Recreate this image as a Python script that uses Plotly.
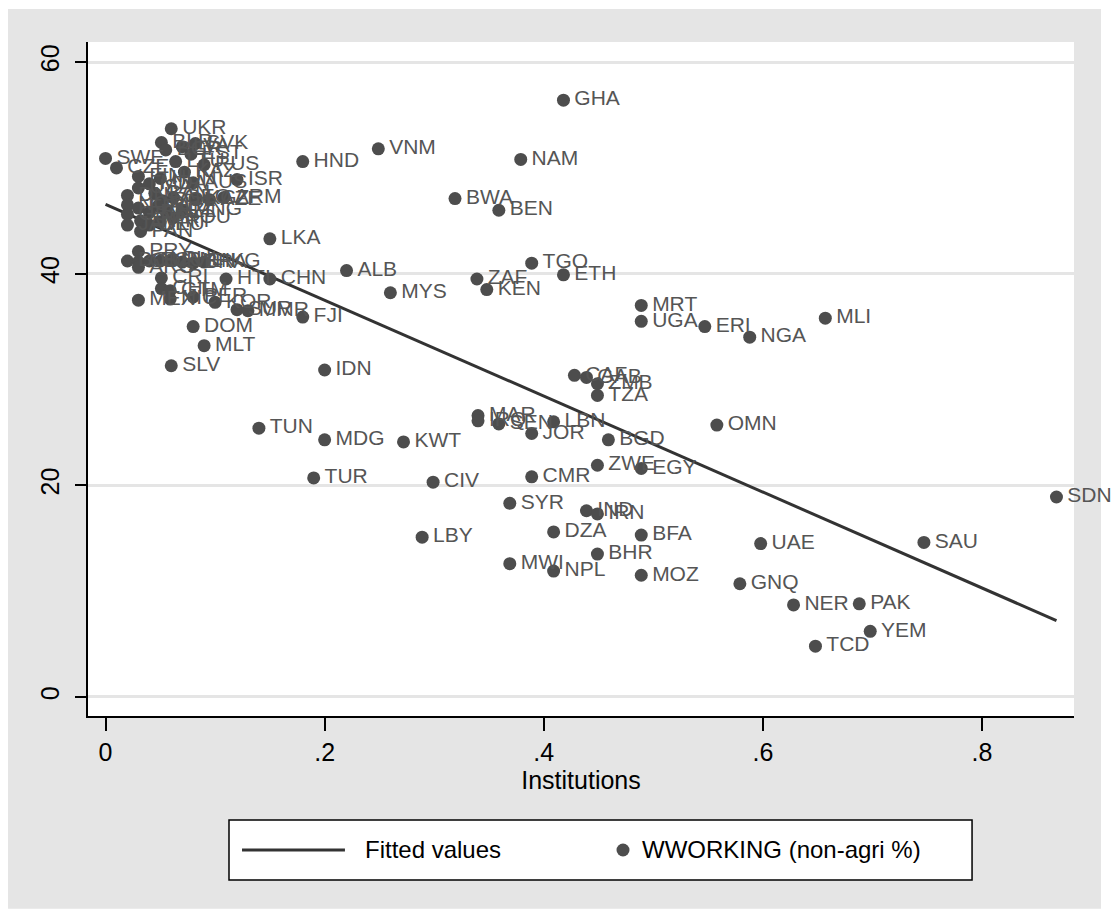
import numpy as np
import plotly.graph_objects as go

# Country codes, institutions index and share of women working (non-agri %)
codes = [
    "UKR", "BLR", "BGR", "LVA", "SVK", "EST", "LTU", "SWE", "CZE", "RUS",
    "FIN", "KAZ", "HUN", "MDA", "AUS", "ISR", "USA", "CAN", "DNK", "GEO",
    "POL", "KGZ", "AZE", "ARM", "NOR", "FRA", "NLD", "NZL", "BEL", "GBR",
    "ROU", "SVN", "PRT", "DEU", "JAM", "PAN", "MNG",
    "PRY", "BOL", "COL", "ECU", "URY", "PHL", "VEN", "BRA", "HKG", "ARG",
    "CRI", "HTI", "CHL", "GTM", "MEX", "NIC", "PER", "KOR", "SUR", "MMR",
    "FJI", "DOM", "MLT", "SLV", "CHN", "LKA", "ALB", "MYS", "HND", "VNM",
    "IDN", "TUN", "MDG", "KWT", "TUR", "CIV", "LBY",
    "GHA", "NAM", "BWA", "BEN", "TGO", "ETH", "ZAF", "KEN", "MRT", "UGA",
    "ERI", "NGA", "MLI", "CAF", "GAB", "ZMB", "TZA", "MAR", "IRQ", "SEN",
    "LBN", "JOR", "BGD", "OMN", "CMR", "ZWE", "EGY", "SYR", "IND", "IRN",
    "DZA", "BFA", "BHR", "MWI", "NPL", "MOZ", "UAE", "SAU", "GNQ", "NER",
    "PAK", "YEM", "TCD", "SDN",
]
institutions = [
    0.060, 0.051, 0.055, 0.070, 0.082, 0.078, 0.064, 0.000, 0.010, 0.090,
    0.030, 0.072, 0.050, 0.040, 0.080, 0.120, 0.030, 0.045, 0.020, 0.062,
    0.052, 0.082, 0.095, 0.108, 0.020, 0.030, 0.048, 0.055, 0.040, 0.020,
    0.062, 0.032, 0.050, 0.040, 0.020, 0.032, 0.070,
    0.030, 0.020, 0.030, 0.040, 0.050, 0.060, 0.070, 0.080, 0.090, 0.030,
    0.051, 0.110, 0.051, 0.059, 0.030, 0.059, 0.080, 0.100, 0.120, 0.130,
    0.180, 0.080, 0.090, 0.060, 0.150, 0.150, 0.220, 0.260, 0.180, 0.249,
    0.200, 0.140, 0.200, 0.272, 0.190, 0.299, 0.289,
    0.418, 0.379, 0.319, 0.359, 0.389, 0.418, 0.339, 0.348, 0.489, 0.489,
    0.547, 0.588, 0.657, 0.428, 0.439, 0.449, 0.449, 0.340, 0.340, 0.359,
    0.409, 0.389, 0.459, 0.558, 0.389, 0.449, 0.489, 0.369, 0.439, 0.449,
    0.409, 0.489, 0.449, 0.369, 0.409, 0.489, 0.598, 0.747, 0.579, 0.628,
    0.688, 0.698, 0.648, 0.868,
]
wworking = [
    53.7, 52.4, 51.7, 52.0, 52.3, 51.3, 50.6, 50.9, 50.0, 50.3,
    49.2, 49.6, 49.0, 48.5, 48.6, 48.9, 48.1, 47.6, 47.4, 47.2,
    46.9, 47.1, 47.0, 47.2, 46.5, 46.2, 46.4, 45.9, 45.8, 45.6,
    45.3, 45.0, 44.9, 44.6, 44.6, 44.0, 46.0,
    42.1, 41.2, 41.1, 41.2, 41.2, 41.3, 41.1, 41.0, 41.1, 40.6,
    39.6, 39.5, 38.6, 38.4, 37.5, 37.6, 37.8, 37.3, 36.6, 36.5,
    35.9, 35.0, 33.2, 31.3, 39.5, 43.3, 40.3, 38.2, 50.6, 51.8,
    30.9, 25.4, 24.3, 24.1, 20.7, 20.3, 15.1,
    56.4, 50.8, 47.1, 46.0, 41.0, 39.9, 39.5, 38.5, 37.0, 35.5,
    35.0, 34.0, 35.8, 30.4, 30.2, 29.6, 28.5, 26.6, 26.1, 25.8,
    26.0, 24.9, 24.3, 25.7, 20.8, 21.9, 21.6, 18.3, 17.6, 17.3,
    15.6, 15.3, 13.5, 12.6, 11.9, 11.5, 14.5, 14.6, 10.7, 8.7,
    8.8, 6.2, 4.8, 18.9,
]

x_ticks = [0, 0.2, 0.4, 0.6, 0.8]
x_tick_text = ["0", ".2", ".4", ".6", ".8"]
y_ticks = [0, 20, 40, 60]

legend_labels = ["Fitted values", "WWORKING (non-agri %)"]

# Linear fit of working share on institutions
x = np.array(institutions)
y = np.array(wworking)
slope, intercept = np.polyfit(x, y, 1)
fit_x = np.array([x.min(), x.max()])
fit_y = intercept + slope * fit_x

FONT = "Liberation Sans, Arial, sans-serif"
MARK = "#4d4d4d"
LINE = "#333333"
GREY = "#e5e5e5"

# a hair space keeps the marker labels slightly away from the dots
point_labels = ["\u200a" + c for c in codes]

fig = go.Figure()

fig.add_trace(go.Scatter(
    x=fit_x, y=fit_y, mode="lines", name=legend_labels[0],
    line=dict(color=LINE, width=3), showlegend=False, hoverinfo="skip",
))
fig.add_trace(go.Scatter(
    x=institutions, y=wworking, mode="markers+text", name=legend_labels[1],
    text=point_labels, textposition="middle right", cliponaxis=False,
    textfont=dict(family=FONT, size=21, color="#555555"),
    marker=dict(color=MARK, size=13, line=dict(width=0)),
    showlegend=False,
))

shapes = []
# Graph region (grey) and white plot region on top of it
shapes.append(dict(type="rect", xref="paper", yref="paper",
                   x0=-0.0811, x1=1.0274, y0=-0.286, y1=1.049,
                   fillcolor=GREY, line=dict(width=0), layer="below"))
shapes.append(dict(type="rect", xref="paper", yref="paper",
                   x0=0, x1=1, y0=0, y1=1,
                   fillcolor="white", line=dict(width=0), layer="below"))

# Legend box with its two keys
leg_y = -0.1988
shapes.append(dict(type="rect", xref="paper", yref="paper",
                   x0=0.1430, x1=0.8966, y0=-0.2433, y1=-0.1543,
                   fillcolor="white", line=dict(color="black", width=1.5)))
shapes.append(dict(type="line", xref="paper", yref="paper",
                   x0=0.1562, x1=0.2606, y0=leg_y, y1=leg_y,
                   line=dict(color=LINE, width=3)))
rx, ry = 6.5 / 986, 6.5 / 674
shapes.append(dict(type="circle", xref="paper", yref="paper",
                   x0=0.5426 - rx, x1=0.5426 + rx,
                   y0=leg_y - ry, y1=leg_y + ry,
                   fillcolor=MARK, line=dict(width=0)))

annotations = [
    dict(text=legend_labels[0], xref="paper", yref="paper",
         x=0.2789, y=leg_y, xanchor="left", yanchor="middle",
         showarrow=False, font=dict(family=FONT, size=24, color="black")),
    dict(text=legend_labels[1], xref="paper", yref="paper",
         x=0.5598, y=leg_y, xanchor="left", yanchor="middle",
         showarrow=False, font=dict(family=FONT, size=24, color="black")),
]

fig.update_layout(
    width=1112, height=918,
    margin=dict(l=88, r=38, t=42, b=202),
    paper_bgcolor="white", plot_bgcolor="white",
    font=dict(family=FONT, size=25, color="black"),
    showlegend=False,
    shapes=shapes,
    annotations=annotations,
    xaxis=dict(
        range=[-0.016, 0.884], tickvals=x_ticks, ticktext=x_tick_text,
        showgrid=False, zeroline=False,
        showline=True, linecolor="black", linewidth=1.5,
        ticks="outside", ticklen=13, tickwidth=1.5, tickcolor="black",
        ticklabelstandoff=0,
        tickfont=dict(family=FONT, size=25),
        title=dict(text="Institutions", standoff=6,
                   font=dict(family=FONT, size=25)),
    ),
    yaxis=dict(
        range=[-1.8, 61.9], tickvals=y_ticks,
        showgrid=True, gridcolor=GREY, gridwidth=2.5, zeroline=False,
        showline=True, linecolor="black", linewidth=1.5,
        ticks="outside", ticklen=11, tickwidth=1.5, tickcolor="black",
        tickangle=-90, ticklabelstandoff=6,
        tickfont=dict(family=FONT, size=25),
    ),
)

fig.write_html("out.html")
